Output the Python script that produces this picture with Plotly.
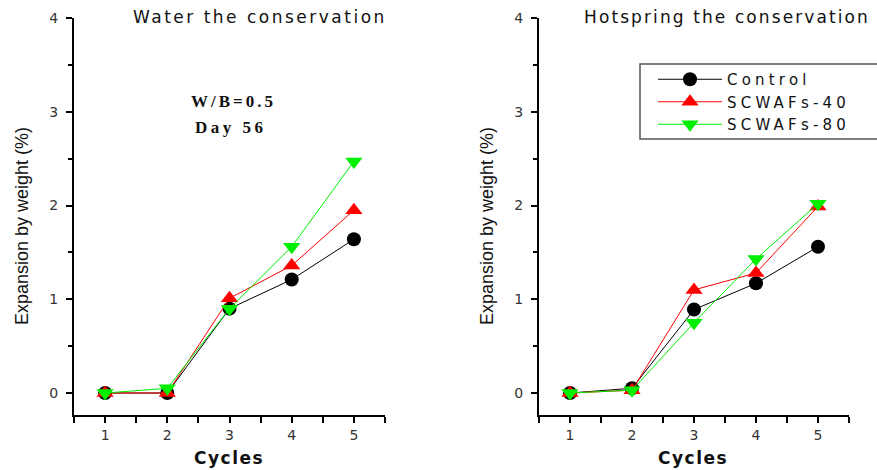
import plotly.graph_objects as go

W, H = 877, 470

cycles = [1, 2, 3, 4, 5]
water_control = [0.0, 0.0, 0.90, 1.21, 1.64]
water_40 = [0.0, 0.0, 1.01, 1.36, 1.95]
water_80 = [0.0, 0.05, 0.90, 1.56, 2.47]
hot_control = [0.0, 0.05, 0.89, 1.17, 1.56]
hot_40 = [0.0, 0.03, 1.10, 1.28, 1.99]
hot_80 = [0.0, 0.03, 0.75, 1.43, 2.02]

series_names = ["Control", "SCWAFs-40", "SCWAFs-80"]
panel_titles = ["Water the conservation", "Hotspring the conservation"]
x_title = "Cycles"
y_title = "Expansion by weight (%)"
note_lines = ["W/B=0.5", "Day 56"]


def ls(text, px):
    return '<span style="letter-spacing:%spx">%s</span>' % (px, text)


def px_x(p):
    return p / W


def px_y(p):
    return 1 - p / H


styles = [
    dict(color="#000000", symbol="circle", size=14),
    dict(color="#FF0000", symbol="triangle-up", size=15),
    dict(color="#00EE00", symbol="triangle-down", size=15),
]

fig = go.Figure()
panels = [(water_control, water_40, water_80), (hot_control, hot_40, hot_80)]
for pi, data in enumerate(panels):
    xa = "x" if pi == 0 else "x2"
    ya = "y" if pi == 0 else "y2"
    for si, vals in enumerate(data):
        st = styles[si]
        fig.add_trace(go.Scatter(
            x=cycles, y=vals, mode="lines+markers",
            name=ls(series_names[si], 4.2),
            legendgroup=series_names[si],
            showlegend=(pi == 1),
            line=dict(color=st["color"], width=1),
            marker=dict(color=st["color"], symbol=st["symbol"], size=st["size"],
                        line=dict(width=0)),
            xaxis=xa, yaxis=ya,
        ))

ydom = [px_y(415), px_y(18)]
ymin = -(415 - 393) / 93.75

axis_common = dict(showline=True, linecolor="#000", linewidth=2, mirror=False,
                   showgrid=False, zeroline=False, ticks="outside", automargin=False,
                   tickcolor="#000", tickwidth=1.5,
                   tickfont=dict(family="DejaVu Sans", size=14, color="#333"))

xa_kw = dict(axis_common, range=[0.5, 5.5], tickmode="linear", tick0=1, dtick=1, ticklen=6,
             minor=dict(ticks="outside", tick0=0.5, dtick=0.5, ticklen=6, tickwidth=1.5, tickcolor="#000"),
             ticklabelstandoff=0)
ya_kw = dict(axis_common, range=[ymin, 4], tickmode="linear", tick0=0, dtick=1, ticklen=6,
             minor=dict(ticks="outside", tick0=0, dtick=0.5, ticklen=4, tickwidth=1.5, tickcolor="#000"),
             ticklabelstandoff=5)

fig.update_layout(
    template="none",
    width=W, height=H,
    margin=dict(l=0, r=0, t=0, b=0, autoexpand=False),
    paper_bgcolor="white", plot_bgcolor="white",
    xaxis=dict(xa_kw, domain=[px_x(74), px_x(385)], anchor="y"),
    yaxis=dict(ya_kw, domain=ydom, anchor="x"),
    xaxis2=dict(xa_kw, domain=[px_x(539), px_x(849)], anchor="y2"),
    yaxis2=dict(ya_kw, domain=ydom, anchor="x2"),
    legend=dict(x=px_x(653), y=px_y(63), xanchor="left", yanchor="top",
                bgcolor="rgba(0,0,0,0)", borderwidth=0, itemwidth=64,
                font=dict(family="DejaVu Sans", size=15, color="#111"),
                tracegroupgap=0),
    showlegend=True,
    hovermode=False,
)

fig.add_shape(type="rect", xref="paper", yref="paper",
              x0=px_x(640), x1=1.01, y0=px_y(139), y1=px_y(64),
              line=dict(color="#555", width=1.5), fillcolor="rgba(0,0,0,0)")

annots = [
    dict(text=ls(panel_titles[0], 2.5), x=px_x(260), y=px_y(17),
         font=dict(family="DejaVu Sans", size=17, color="#111")),
    dict(text=ls(panel_titles[1], 2.1), x=px_x(727), y=px_y(17),
         font=dict(family="DejaVu Sans", size=17, color="#111")),
    dict(text=ls(x_title, 1.5), x=px_x(229), y=px_y(458),
         font=dict(family="DejaVu Sans", size=17, color="#111", weight="bold")),
    dict(text=ls(x_title, 1.5), x=px_x(693), y=px_y(458),
         font=dict(family="DejaVu Sans", size=17, color="#111", weight="bold")),
    dict(text=y_title, x=px_x(22), y=px_y(226), textangle=-90,
         font=dict(family="Liberation Sans", size=18, color="#111")),
    dict(text=y_title, x=px_x(487), y=px_y(226), textangle=-90,
         font=dict(family="Liberation Sans", size=18, color="#111")),
    dict(text=ls(note_lines[0], 3), x=px_x(233), y=px_y(101),
         font=dict(family="Liberation Serif", size=17, color="#111", weight="bold")),
    dict(text=ls(note_lines[1], 3.5), x=px_x(231), y=px_y(128),
         font=dict(family="Liberation Serif", size=17, color="#111", weight="bold")),
]
for a in annots:
    fig.add_annotation(xref="paper", yref="paper", showarrow=False,
                       xanchor="center", yanchor="middle", **a)

fig.write_html("out.html", config={"displayModeBar": False},
               post_script="document.body.style.margin='0';document.body.style.overflow='hidden';")
